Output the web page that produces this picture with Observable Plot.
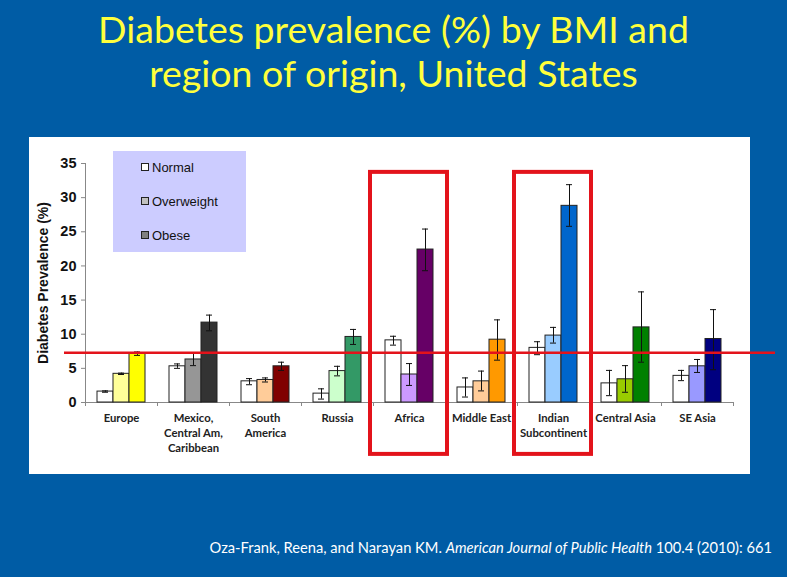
<!DOCTYPE html>
<html><head><meta charset="utf-8">
<script src="https://cdn.jsdelivr.net/npm/d3@7"></script>
<script src="https://cdn.jsdelivr.net/npm/@observablehq/plot@0.6"></script>
<style>
html,body{margin:0;padding:0;}
body{width:787px;height:577px;background:#005CA5;position:relative;overflow:hidden;font-family:Lato,sans-serif;}
.tl{position:absolute;left:0;width:787px;text-align:center;color:#FFFF3C;font-size:37.5px;line-height:44px;white-space:nowrap;}
#panel{position:absolute;left:29px;top:137px;width:721px;height:337px;background:#fff;}
#chart{position:absolute;left:0;top:137px;}
#legend{position:absolute;left:113px;top:151px;width:133px;height:101px;background:#CCCCFF;font-family:"Liberation Sans",Arial,sans-serif;font-size:13px;color:#111;}
.li{position:absolute;left:28px;height:16px;line-height:16px;white-space:nowrap;}
.sw{display:inline-block;width:6px;height:6px;border:1px solid #222;margin-right:3px;vertical-align:1px;}
#caption{position:absolute;right:15px;top:538px;color:#fff;font-size:14.7px;white-space:nowrap;}
</style></head>
<body>
<div class="tl" style="top:7px">Diabetes prevalence (%) by BMI and</div>
<div class="tl" style="top:51px">region of origin, United States</div>
<div id="panel"></div>
<div id="chart"></div>
<div id="legend"></div>
<div id="caption">Oza-Frank, Reena, and Narayan KM. <i>American Journal of Public Health</i> 100.4 (2010): 661</div>
<script>
const regions = ["Europe", "Mexico,\nCentral Am,\nCaribbean", "South\nAmerica", "Russia", "Africa", "Middle East", "Indian\nSubcontinent", "Central Asia", "SE Asia"];
const bmiClasses = ["Normal", "Overweight", "Obese"];
const normal     = [1.6, 5.3, 3.1, 1.3, 9.1, 2.2, 8.0, 2.8, 3.9];
const overweight = [4.2, 6.3, 3.3, 4.6, 4.1, 3.1, 9.8, 3.4, 5.3];
const obese      = [7.2, 11.7, 5.3, 9.6, 22.4, 9.2, 28.8, 11.0, 9.3];
const normalLo     = [1.5, 5.0, 2.6, 0.5, 8.4, 0.8, 7.0, 1.0, 3.2];
const normalHi     = [1.7, 5.65, 3.5, 2.0, 9.7, 3.6, 8.9, 4.7, 4.7];
const overweightLo = [4.1, 5.4, 3.0, 3.9, 2.5, 1.7, 8.7, 1.5, 4.4];
const overweightHi = [4.3, 7.2, 3.6, 5.3, 5.7, 4.6, 11.0, 5.4, 6.3];
const obeseLo      = [6.9, 10.5, 4.7, 8.5, 19.3, 6.2, 25.8, 5.9, 4.8];
const obeseHi      = [7.4, 12.8, 5.9, 10.7, 25.4, 12.1, 31.9, 16.2, 13.6];
const normalColors     = ["#FFFFFF","#FFFFFF","#FFFFFF","#FFFFFF","#FFFFFF","#FFFFFF","#FFFFFF","#FFFFFF","#FFFFFF"];
const overweightColors = ["#FFFF99","#969696","#FFCC99","#CCFFCC","#CC99FF","#FFCC99","#99CCFF","#99CC00","#9999FF"];
const obeseColors      = ["#FFFF00","#333333","#800000","#339966","#660066","#FF9900","#0066CC","#008000","#000080"];
const legendColors = ["#FFFFFF", "#C0C0C0", "#808080"];
const yTicks = [0, 5, 10, 15, 20, 25, 30, 35];
const yLabel = "Diabetes Prevalence (%)";
const referenceLine = [7.3];
const highlighted = ["Africa", "Indian\nSubcontinent"];

const rows = regions.map((r, i) => ({
  region: r,
  normal: normal[i], overweight: overweight[i], obese: obese[i],
  normalLo: normalLo[i], normalHi: normalHi[i],
  overweightLo: overweightLo[i], overweightHi: overweightHi[i],
  obeseLo: obeseLo[i], obeseHi: obeseHi[i],
  normalColor: normalColors[i], overweightColor: overweightColors[i], obeseColor: obeseColors[i]
}));

const series = ["normal", "overweight", "obese"];
const barMarks = [];
series.forEach((s, k) => {
  const inL = 12 + 16 * k, inR = 44 - 16 * k;
  barMarks.push(Plot.barY(rows, {x: "region", y: s, fill: s + "Color", stroke: "#222", strokeWidth: 1, insetLeft: inL, insetRight: inR}));
});
series.forEach((s, k) => {
  const dx = -16 + 16 * k;
  const cL = 17 + 16 * k, cR = 49 - 16 * k;
  barMarks.push(Plot.ruleX(rows, {x: "region", y1: s + "Lo", y2: s + "Hi", dx, stroke: "#111", strokeWidth: 1}));
  barMarks.push(Plot.tickY(rows, {x: "region", y: s + "Lo", insetLeft: cL, insetRight: cR, stroke: "#111", strokeWidth: 1}));
  barMarks.push(Plot.tickY(rows, {x: "region", y: s + "Hi", insetLeft: cL, insetRight: cR, stroke: "#111", strokeWidth: 1}));
});

const chart = Plot.plot({
  width: 787, height: 337,
  marginLeft: 85, marginRight: 54, marginTop: 26, marginBottom: 72,
  x: {domain: regions, padding: 0, axis: null},
  y: {domain: [0, 35], axis: null},
  color: {type: "identity"},
  style: {background: "transparent", overflow: "visible"},
  marks: [
    Plot.ruleY([0], {stroke: "#888"}),
    Plot.ruleX([regions[0]], {dx: -36, y1: 0, y2: 35, stroke: "#888"}),
    Plot.axisY({ticks: yTicks, tickSize: 4, tickPadding: 5, fontSize: 14.5, fontWeight: "bold", fontFamily: "Liberation Sans, Arial, sans-serif", fill: "#111", stroke: "#888", label: null}),
    Plot.text([yLabel], {frameAnchor: "left", rotate: -90, dx: -42, textAnchor: "middle", lineAnchor: "middle", fontSize: 14, fontWeight: "bold", fontFamily: "Liberation Sans, Arial, sans-serif", fill: "#111"}),
    Plot.axisX({tickSize: 0, tickPadding: 9, fontSize: 11.3, fontWeight: "bold", fontFamily: "Lato, sans-serif", fill: "#222", lineHeight: 1.32, label: null}),
    Plot.axisX({tickSize: 4, dx: -36, stroke: "#888", tickFormat: () => "", label: null}),
    Plot.axisX({ticks: [regions[regions.length - 1]], tickSize: 4, dx: 36, stroke: "#888", tickFormat: () => "", label: null}),
    ...barMarks,
    Plot.ruleY(referenceLine, {stroke: "#E3131B", strokeWidth: 2.5, insetLeft: -21, insetRight: -42}),
    Plot.barY(highlighted, {x: d => d, y1: -7.6, y2: 33.7, fill: "none", stroke: "#E3131B", strokeWidth: 4, insetLeft: -3, insetRight: -2})
  ]
});
document.getElementById("chart").appendChild(chart);

const legend = document.getElementById("legend");
bmiClasses.forEach((name, i) => {
  const d = document.createElement("div");
  d.className = "li";
  d.style.top = (9 + 34 * i) + "px";
  d.innerHTML = `<span class="sw" style="background:${legendColors[i]}"></span>${name}`;
  legend.appendChild(d);
});
</script>
</body></html>
